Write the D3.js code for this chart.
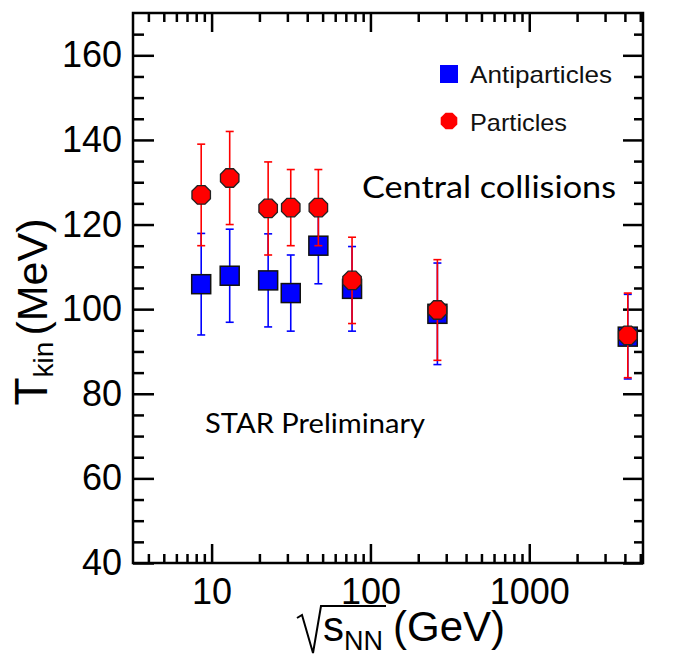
<!DOCTYPE html>
<html>
<head>
<meta charset="utf-8">
<script src="https://cdn.jsdelivr.net/npm/d3@7"></script>
<style>
  body { margin: 0; background: #fff; }
</style>
</head>
<body>
<script>
const width = 684;
const height = 656;

// collision energies as they sit on the drawn log axis (GeV)
const energies = [8.6, 13, 22.7, 31.5, 47, 76.6, 264, 4170];
const antiT = [105.9, 107.9, 106.8, 103.8, 115, 104.8, 98.9, 93.5];
const antiErr = [12, 11, 11, 9, 9, 10, 12, 10];
const partT = [127, 131, 123.8, 124, 124, 106.8, 99.8, 93.8];
const partErr = [12, 11, 11, 9, 9, 10.2, 11.9, 10];
const xMajor = [10, 100, 1000];
const yMajor = [40, 60, 80, 100, 120, 140, 160];
const legendNames = ["Antiparticles", "Particles"];

const sans = "'Liberation Sans', Arial, sans-serif";
const calibriLike = "Lato, 'Open Sans', sans-serif";

const x = d3.scaleLog().domain([3.2, 5200]).range([133, 643]);
const y = d3.scaleLinear().domain([40, 170]).range([563, 13]);

const xMinor = [];
[1, 10, 100, 1000].forEach(dec => {
  for (let k = 2; k <= 9; k++) {
    const v = k * dec;
    if (v > x.domain()[0] && v < x.domain()[1]) xMinor.push(v);
  }
});
const yMinor = d3.range(45, 170, 5).filter(v => v % 20 !== 0);

const svg = d3.select("body").append("svg")
  .attr("width", width)
  .attr("height", height)
  .style("font-family", sans);

const [x0, x1] = x.range();
const [y0, y1] = y.range();

function styleAxis(g) {
  g.select(".domain").remove();
  g.selectAll("line").attr("stroke", "#000").attr("stroke-width", 2.5);
  g.selectAll("text").attr("fill", "#000").attr("font-size", 36)
    .attr("font-family", sans);
}

// y axes (left with labels, right mirrored)
svg.append("g").attr("transform", `translate(${x0},0)`)
  .call(d3.axisLeft(y).tickValues(yMajor).tickSize(-21).tickPadding(11).tickFormat(d3.format("d")))
  .call(styleAxis);
svg.append("g").attr("transform", `translate(${x0},0)`)
  .call(d3.axisLeft(y).tickValues(yMinor).tickSize(-11).tickFormat(""))
  .call(styleAxis);
svg.append("g").attr("transform", `translate(${x1},0)`)
  .call(d3.axisRight(y).tickValues(yMajor).tickSize(-20).tickFormat(""))
  .call(styleAxis);
svg.append("g").attr("transform", `translate(${x1},0)`)
  .call(d3.axisRight(y).tickValues(yMinor).tickSize(-9).tickFormat(""))
  .call(styleAxis);

// x axes
svg.append("g").attr("transform", `translate(0,${y0})`)
  .call(d3.axisBottom(x).tickValues(xMajor).tickSize(-19).tickPadding(15).tickFormat(d3.format("d")))
  .call(styleAxis);
svg.append("g").attr("transform", `translate(0,${y0})`)
  .call(d3.axisBottom(x).tickValues(xMinor).tickSize(-9).tickFormat(""))
  .call(styleAxis);
svg.append("g").attr("transform", `translate(0,${y1})`)
  .call(d3.axisTop(x).tickValues(xMajor).tickSize(-19).tickFormat(""))
  .call(styleAxis);
svg.append("g").attr("transform", `translate(0,${y1})`)
  .call(d3.axisTop(x).tickValues(xMinor).tickSize(-9).tickFormat(""))
  .call(styleAxis);

// frame
svg.append("rect")
  .attr("x", x0).attr("y", y1)
  .attr("width", x1 - x0).attr("height", y0 - y1)
  .attr("fill", "none").attr("stroke", "#000").attr("stroke-width", 2.5);

// octagon marker
function octagon(r) {
  const pts = d3.range(8).map(i => {
    const a = Math.PI / 8 + i * Math.PI / 4;
    return [r * Math.cos(a), r * Math.sin(a)];
  });
  return d3.line()(pts) + "Z";
}

function errorBars(vals, errs, color) {
  const g = svg.append("g");
  const cap = 4;
  energies.forEach((e, i) => {
    const cx = x(e);
    const top = y(vals[i] + errs[i]);
    const bot = y(vals[i] - errs[i]);
    g.append("line").attr("x1", cx).attr("x2", cx).attr("y1", top).attr("y2", bot);
    g.append("line").attr("x1", cx - cap).attr("x2", cx + cap).attr("y1", top).attr("y2", top);
    g.append("line").attr("x1", cx - cap).attr("x2", cx + cap).attr("y1", bot).attr("y2", bot);
  });
  g.selectAll("line").attr("stroke", color).attr("stroke-width", 1.6);
}

// antiparticles
errorBars(antiT, antiErr, "#0000ff");
svg.append("g").selectAll("rect")
  .data(energies)
  .join("rect")
  .attr("x", (d) => x(d) - 9.5)
  .attr("y", (d, i) => y(antiT[i]) - 9.5)
  .attr("width", 19)
  .attr("height", 19)
  .attr("fill", "#0000ff")
  .attr("stroke", "#111")
  .attr("stroke-width", 1.5);

// particles
errorBars(partT, partErr, "#ff0000");
svg.append("g").selectAll("path")
  .data(energies)
  .join("path")
  .attr("d", octagon(10))
  .attr("transform", (d, i) => `translate(${x(d)},${y(partT[i])})`)
  .attr("fill", "#ff0000")
  .attr("stroke", "#222")
  .attr("stroke-width", 1.3);

// legend
const leg = svg.append("g");
leg.append("rect").attr("x", 440).attr("y", 65).attr("width", 18).attr("height", 18)
  .attr("fill", "#0000ff");
leg.append("path").attr("d", octagon(9)).attr("transform", "translate(449,121)")
  .attr("fill", "#ff0000");
leg.selectAll("text")
  .data(legendNames)
  .join("text")
  .attr("x", 470)
  .attr("y", (d, i) => 83 + i * 48)
  .attr("font-size", 24)
  .attr("textLength", (d, i) => i === 0 ? 142 : 97)
  .attr("lengthAdjust", "spacingAndGlyphs")
  .attr("fill", "#111")
  .text((d) => d);

// annotations
svg.append("text")
  .attr("x", 362).attr("y", 198)
  .style("font-family", calibriLike)
  .attr("font-size", 31)
  .attr("textLength", 254).attr("lengthAdjust", "spacingAndGlyphs")
  .text("Central collisions");
svg.append("text")
  .attr("x", 205).attr("y", 433)
  .style("font-family", calibriLike)
  .attr("font-size", 26)
  .attr("textLength", 220).attr("lengthAdjust", "spacingAndGlyphs")
  .text("STAR Preliminary");

// y title
const yt = svg.append("text")
  .attr("transform", "translate(47,312) rotate(-90)")
  .attr("text-anchor", "middle")
  .attr("fill", "#000");
yt.append("tspan").attr("font-size", 46).text("T");
yt.append("tspan").attr("font-size", 28).attr("dy", 6).text("kin");
yt.append("tspan").attr("font-size", 43).attr("dy", -6).attr("dx", 6).text("(MeV)");

// x title with radical sign
svg.append("path")
  .attr("d", "M297,618 L302,615 L313,653 L321,606 L386,606")
  .attr("fill", "none").attr("stroke", "#000").attr("stroke-width", 2);
const xt = svg.append("text").attr("x", 323).attr("y", 641).attr("fill", "#000");
xt.append("tspan").attr("font-size", 42).text("s");
xt.append("tspan").attr("font-size", 27).attr("dy", 9).text("NN");
xt.append("tspan").attr("font-size", 42).attr("dy", -9).attr("dx", 10).text("(GeV)");
</script>
</body>
</html>
